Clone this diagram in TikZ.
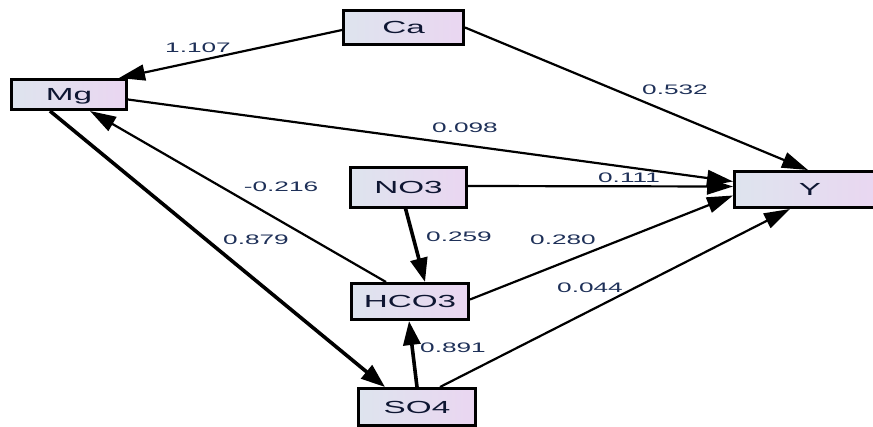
\documentclass[tikz,border=0pt]{standalone}
\usepackage{fontspec}
\newfontfamily\diagfont[FakeStretch=1.9]{Liberation Sans}
\usetikzlibrary{arrows.meta,calc}

\definecolor{boxleft}{RGB}{222,228,238}
\definecolor{boxright}{RGB}{234,214,241}
\definecolor{nodeink}{RGB}{14,22,50}
\definecolor{labelink}{RGB}{30,48,88}

\tikzset{
  var/.style={draw=black, line width=3pt, rectangle, inner sep=0pt,
    left color=boxleft, right color=boxright,
    font=\diagfont\fontsize{17.5}{20}\selectfont, text=nodeink,
    text height=12.5pt, text depth=0pt},
  coef/.style={font=\diagfont\fontsize{13.8}{16}\selectfont, text=labelink, inner sep=0pt},
  path/.style={draw=black, line width=2.2pt,
    -{Triangle[length=26pt, width=16pt]}},
  strong/.style={draw=black, line width=3.6pt,
    -{Triangle[length=24pt, width=17pt]}}
}

\begin{document}
\begin{tikzpicture}[x=1pt, y=-1pt]
  \useasboundingbox (0,0) rectangle (873,426);

  % variables
  \node[var, minimum width=120pt, minimum height=34pt] (ca)   at (403.5,27.5) {Ca};
  \node[var, minimum width=115pt, minimum height=30pt] (mg)   at (69,94.5)    {Mg};
  \node[var, minimum width=116pt, minimum height=40pt] (no3)  at (408.5,187)  {NO3};
  \node[var, minimum width=117pt, minimum height=36pt] (hco3) at (410,301.5)  {HCO3};
  \node[var, minimum width=117pt, minimum height=37pt] (so4)  at (417,407)    {SO4};
  \node[var, minimum width=151pt, minimum height=36pt] (y)    at (810,189.5)  {Y};

  % paths
  \draw[path]   ($(ca.west)+(0,2.5)$)   -- ($(mg.north east)+(-9,0)$);
  \draw[path]   (ca.east)               -- ($(y.north)+(-2,0)$);
  \draw[path]   ($(mg.east)+(0,5)$)     -- ($(y.west)+(0,-8)$);
  \draw[path]   ($(no3.east)+(0,-1)$)   -- ($(y.west)+(0,-3)$);
  \draw[strong] ($(no3.south)+(-3,0)$)  -- ($(hco3.north)+(15,0)$);
  \draw[path]   ($(hco3.north)+(-24,0)$) -- ($(mg.south)+(21,0)$);
  \draw[path]   ($(hco3.east)+(0,-2)$)  -- ($(y.west)+(0,6)$);
  \draw[path]   ($(so4.north)+(23,0)$)  -- ($(y.south)+(-20,0)$);
  \draw[strong] ($(mg.south)+(-19,0)$)  -- ($(so4.north)+(-32,0)$);
  \draw[strong] (so4.north)             -- ($(hco3.south)+(-1,0)$);

  % coefficients
  \node[coef] (c1)  at (198,48)  {1.107};
  \node[coef] (c2)  at (675,90)  {0.532};
  \node[coef] (c3)  at (465,128) {0.098};
  \node[coef] (c4)  at (629,178) {0.111};
  \node[coef] (c5)  at (281,187) {-0.216};
  \node[coef] (c6)  at (459,237) {0.259};
  \node[coef] (c7)  at (563,240) {0.280};
  \node[coef] (c8)  at (256,240) {0.879};
  \node[coef] (c9)  at (590,288) {0.044};
  \node[coef] (c10) at (453,348) {0.891};
\end{tikzpicture}
\end{document}
